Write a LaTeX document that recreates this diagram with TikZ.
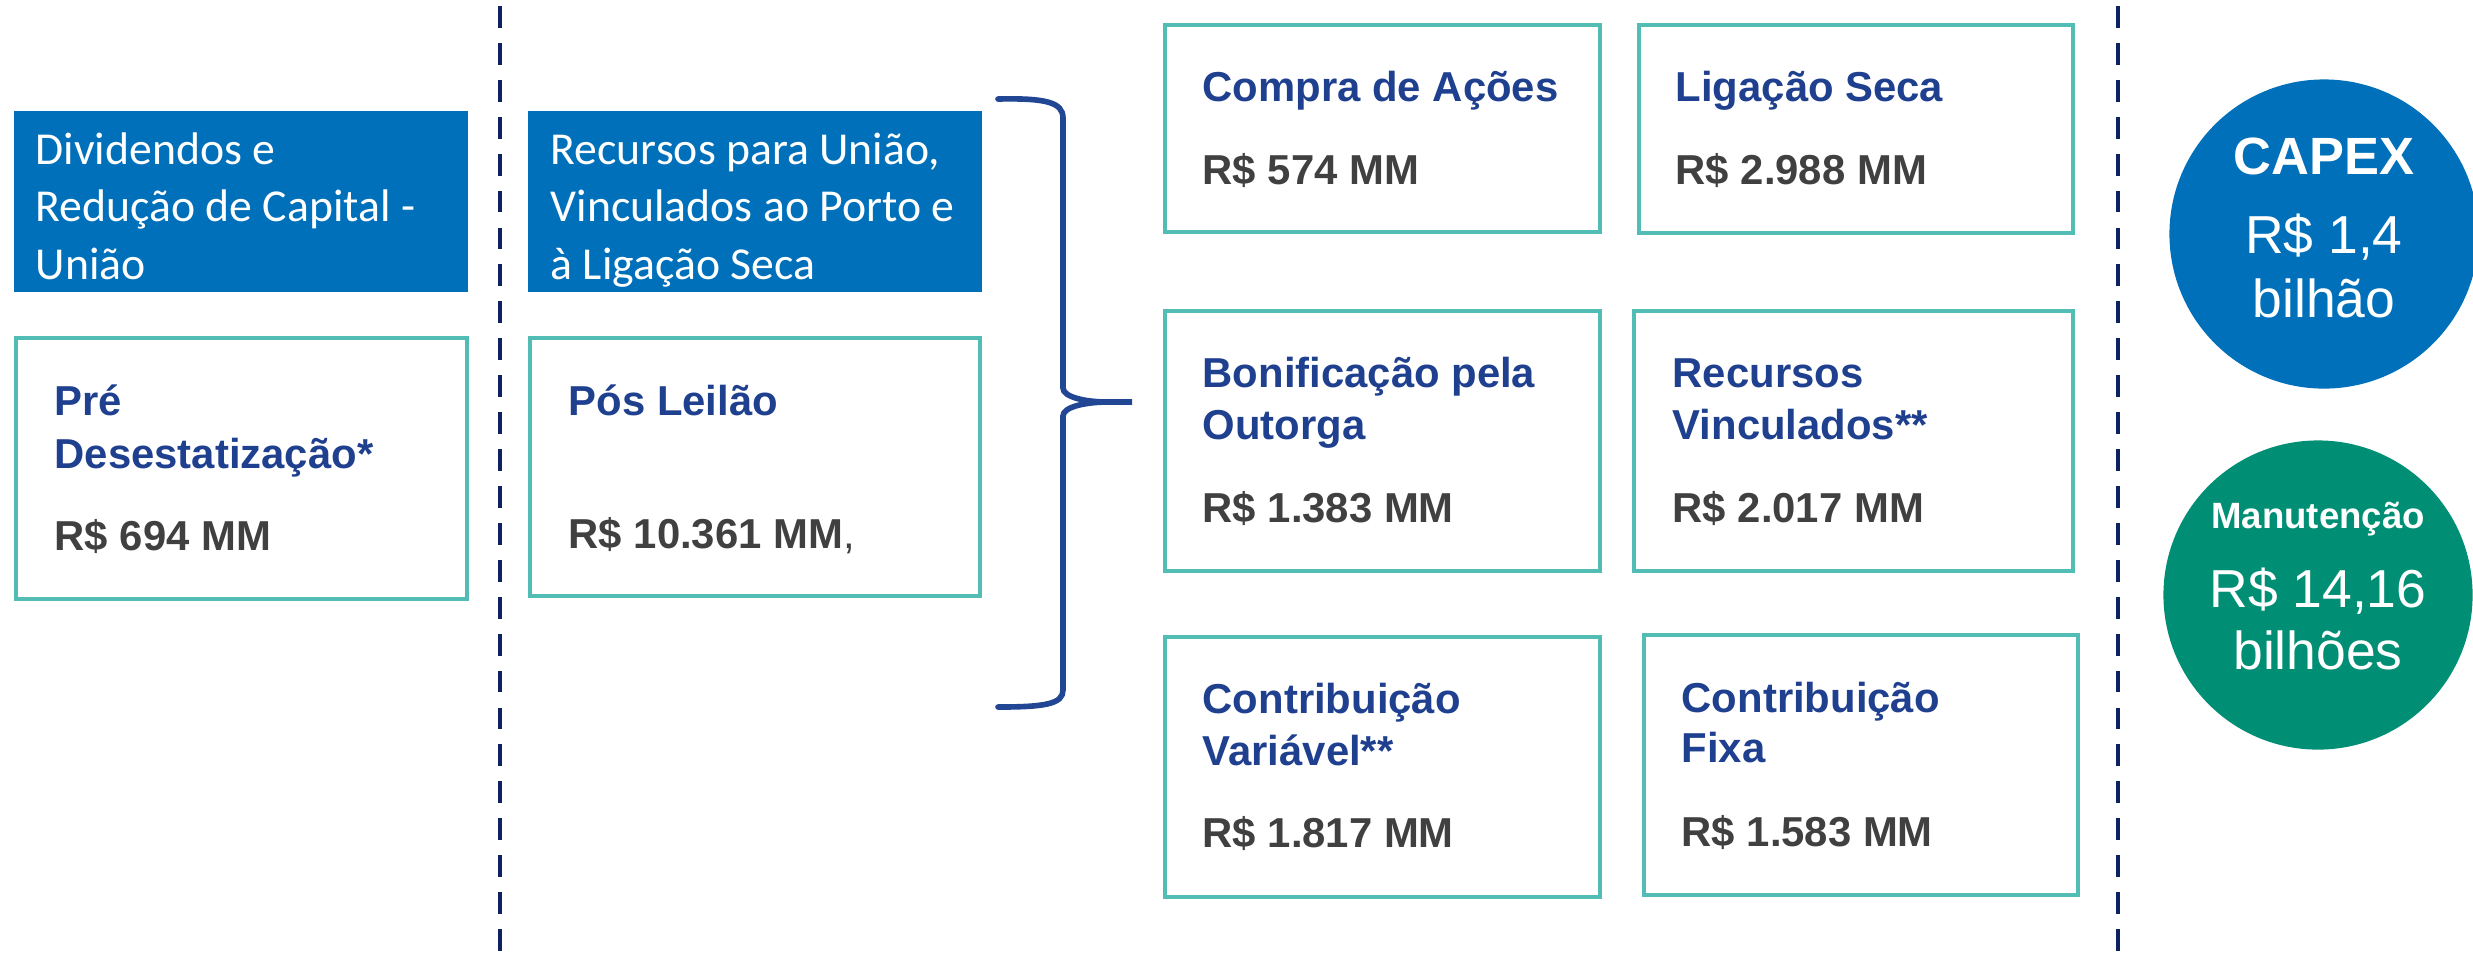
\documentclass[tikz,border=0pt]{standalone}
\usepackage{fontspec}
\setmainfont{Liberation Sans}
\newfontfamily\calib{Carlito}
\usetikzlibrary{fit}
\definecolor{hdrblue}{RGB}{0,112,186}
\definecolor{tealline}{RGB}{82,189,180}
\definecolor{navytext}{RGB}{31,63,143}
\definecolor{valgray}{RGB}{64,64,64}
\definecolor{dashnavy}{RGB}{14,33,96}
\definecolor{bracenavy}{RGB}{33,71,148}
\definecolor{greencirc}{RGB}{0,143,116}
\begin{document}
\begin{tikzpicture}[x=0.01cm,y=-0.01cm,
  hdrbox/.style={fill=hdrblue,draw=none,inner sep=0pt},
  valbox/.style={draw=tealline,line width=1.15pt,inner sep=0pt},
  hdrtxt/.style={anchor=base west,inner sep=0pt,text=white,font=\calib\fontsize{13}{15}\selectfont},
  ttl/.style={anchor=base west,inner sep=0pt,text=navytext,font=\bfseries\fontsize{11.9}{14}\selectfont},
  val/.style={anchor=base west,inner sep=0pt,text=valgray,font=\bfseries\fontsize{11.9}{14}\selectfont},
  sep/.style={draw=dashnavy,line width=1.15pt,dash pattern=on 6.2pt off 4.3pt,dash phase=8.8pt},
  circ/.style={circle,draw=none,minimum size=3.09cm,inner sep=0pt},
  circtxt/.style={anchor=base,inner sep=0pt,text=white,font=\fontsize{15.2}{18}\selectfont}]
\useasboundingbox (0,0) rectangle (2473,956);

% separators
\coordinate (s1t) at (500,0);
\coordinate (s1b) at (500,956);
\coordinate (s2t) at (2118,0);
\coordinate (s2b) at (2118,956);
\draw[sep] (s1t) -- (s1b);
\draw[sep] (s2t) -- (s2b);

% header boxes
\node[hdrbox,fit={(14,111) (468,292)}] (h1) {};
\node[hdrbox,fit={(528,111) (982,292)}] (h2) {};
\node[hdrtxt] (h1a) at (35,164) {Dividendos e};
\node[hdrtxt] (h1b) at (35,221) {Redução de Capital -};
\node[hdrtxt] (h1c) at (35,279) {União};
\node[hdrtxt] (h2a) at (550,164) {Recursos para União,};
\node[hdrtxt] (h2b) at (550,221) {Vinculados ao Porto e};
\node[hdrtxt] (h2c) at (550,279) {à Ligação Seca};

% left value boxes
\node[valbox,fit={(16,338) (467,599)}] (b1) {};
\node[valbox,fit={(530,338) (980,596)}] (b2) {};
\node[ttl] (b1a) at (54,415) {Pré};
\node[ttl] (b1b) at (54,468) {Desestatização*};
\node[val] (b1c) at (54,550) {R\$ 694 MM};
\node[ttl] (b2a) at (568,415) {Pós Leilão};
\node[val] (b2c) at (568,548) {R\$ 10.361 MM{\mdseries ,}};

% brace
\coordinate (brt) at (998,99);
\coordinate (brm) at (1132,402);
\coordinate (brb) at (998,707);
\draw[draw=bracenavy,line width=1.6pt,line cap=round]
  (brt) .. controls (1045,98) and (1063,102) .. (1063,118)
  -- (1063,388) .. controls (1063,397) and (1085,402) .. (1108,402)
  -- (brm) -- (1108,402)
  .. controls (1085,402) and (1063,407) .. (1063,416)
  -- (1063,690) .. controls (1063,704) and (1045,707) .. (brb);

% right boxes
\node[valbox,fit={(1165,25) (1600,232)}] (c1) {};
\node[valbox,fit={(1639,25) (2073,233)}] (c2) {};
\node[valbox,fit={(1165,311) (1600,571)}] (c3) {};
\node[valbox,fit={(1634,311) (2073,571)}] (c4) {};
\node[valbox,fit={(1165,637) (1600,897)}] (c5) {};
\node[valbox,fit={(1644,635) (2078,895)}] (c6) {};

\node[ttl] (c1a) at (1202,101) {Compra de Ações};
\node[val] (c1b) at (1202,184) {R\$ 574 MM};
\node[ttl] (c2a) at (1675,101) {Ligação Seca};
\node[val] (c2b) at (1675,184) {R\$ 2.988 MM};

\node[ttl] (c3a) at (1202,387) {Bonificação pela};
\node[ttl] (c3b) at (1202,439) {Outorga};
\node[val] (c3c) at (1202,522) {R\$ 1.383 MM};
\node[ttl] (c4a) at (1672,387) {Recursos};
\node[ttl] (c4b) at (1672,439) {Vinculados**};
\node[val] (c4c) at (1672,522) {R\$ 2.017 MM};

\node[ttl] (c5a) at (1202,713) {Contribuição};
\node[ttl] (c5b) at (1202,765) {Variável**};
\node[val] (c5c) at (1202,847) {R\$ 1.817 MM};
\node[ttl] (c6a) at (1681,712) {Contribuição};
\node[ttl] (c6b) at (1681,762) {Fixa};
\node[val] (c6c) at (1681,846) {R\$ 1.583 MM};

% circles
\node[circ,fill=hdrblue] (capex) at (2324,234) {};
\node[circtxt,font=\bfseries\fontsize{14.9}{18}\selectfont] (capa) at (2324,174) {CAPEX};
\node[circtxt] (capb) at (2324,253) {R\$ 1,4};
\node[circtxt] (capc) at (2324,317) {bilhão};

\node[circ,fill=greencirc] (manut) at (2318,595) {};
\node[circtxt,font=\bfseries\fontsize{10.4}{12}\selectfont] (mana) at (2318,528) {Manutenção};
\node[circtxt] (manb) at (2318,607) {R\$ 14,16};
\node[circtxt] (manc) at (2318,669) {bilhões};
\end{tikzpicture}
\end{document}
